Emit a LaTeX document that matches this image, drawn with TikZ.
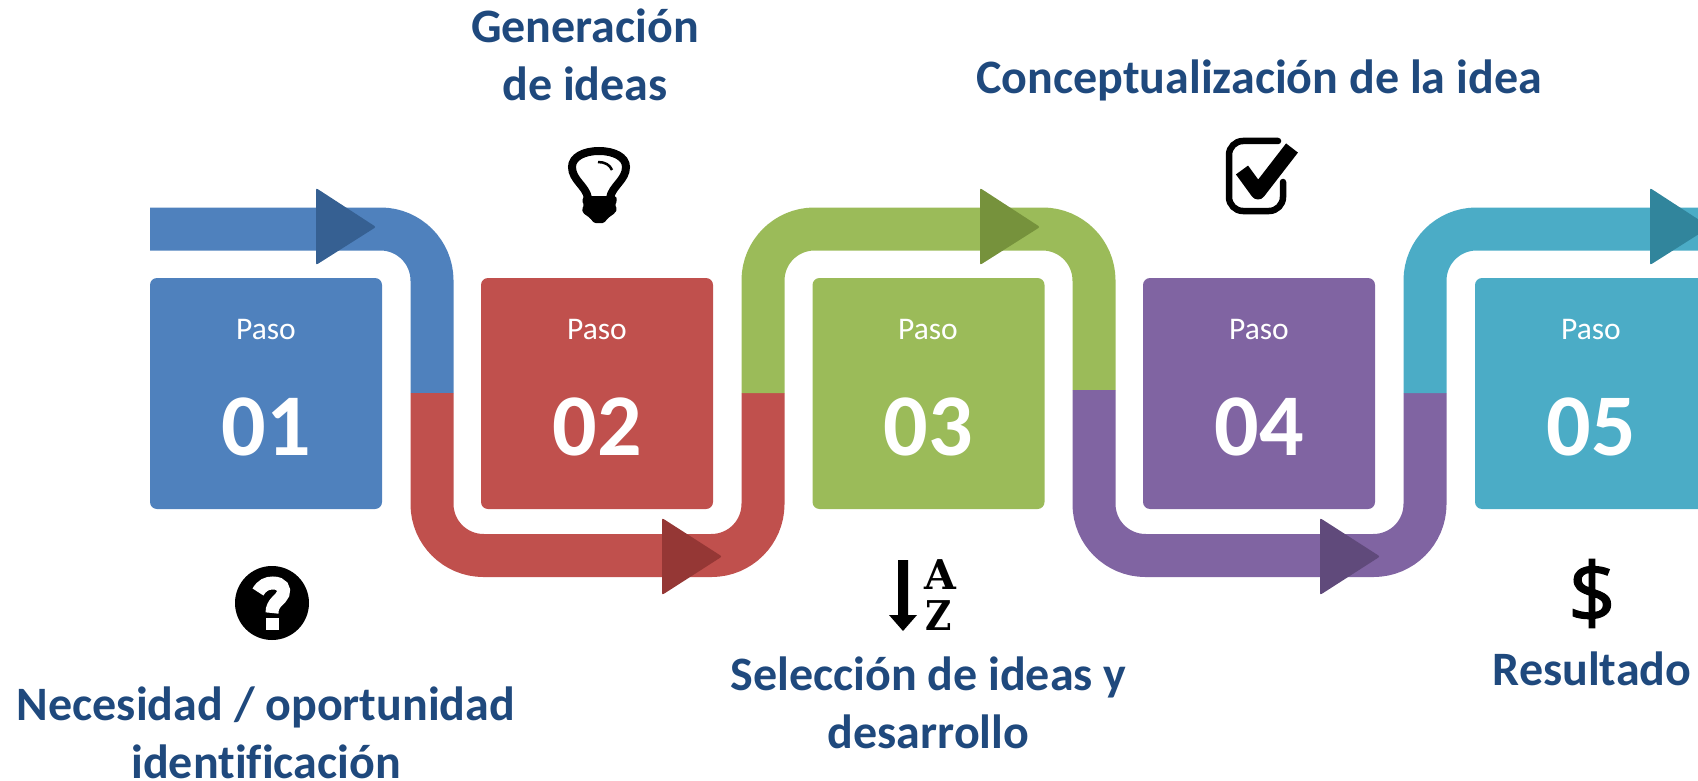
\documentclass[tikz,border=0pt]{standalone}
\usepackage{fontspec}
\setmainfont{Carlito}[Ligatures=NoCommon]
\newfontfamily\iconfont{Open Sans}[FakeBold=1.6]
\newfontfamily\slabfont{DejaVu Serif}
\definecolor{pasoblue}{HTML}{4F81BD}
\definecolor{pasored}{HTML}{C0504D}
\definecolor{pasogreen}{HTML}{9BBB59}
\definecolor{pasopurple}{HTML}{8064A2}
\definecolor{pasocyan}{HTML}{4BACC6}
\definecolor{tipblue}{HTML}{366092}
\definecolor{tipred}{HTML}{953735}
\definecolor{tipgreen}{HTML}{76923C}
\definecolor{tippurple}{HTML}{604A7B}
\definecolor{tipcyan}{HTML}{31859C}
\definecolor{titleblue}{HTML}{1F497D}
\tikzset{
	band/.style={line width=43pt,rounded corners=51.5pt},
	pointer/.style={rounded corners=2pt},
	pasobox/.style={rounded corners=7pt,minimum width=232pt,minimum height=231pt,inner sep=0pt},
	pasoword/.style={text=white,font=\fontsize{31.5}{36}\selectfont},
	pasonum/.style={text=white,font=\fontsize{88}{100}\selectfont\bfseries},
	title/.style={text=titleblue,align=center,inner sep=0pt,font=\fontsize{48}{58}\selectfont\bfseries}
}
\begin{document}
\begin{tikzpicture}[x=1pt,y=-1pt]
	\useasboundingbox (0,0) rectangle (1698,781);
	% turning points of the band
	\coordinate (t0) at (150,229);
	\coordinate (t1) at (432,229);
	\coordinate (m1) at (432,393);
	\coordinate (b1) at (432,555.5);
	\coordinate (b2) at (763,555.5);
	\coordinate (m2) at (763,393);
	\coordinate (t2) at (763,229);
	\coordinate (t3) at (1094,229);
	\coordinate (m3) at (1094,390);
	\coordinate (b3) at (1094,555.5);
	\coordinate (b4) at (1425,555.5);
	\coordinate (m4) at (1425,393);
	\coordinate (t4) at (1425,229);
	\coordinate (t5) at (1698,229);
	\draw[band,pasoblue] (t0) -- (t1) -- (m1);
	\draw[band,pasored] (m1) -- (b1) -- (b2) -- (m2);
	\draw[band,pasogreen] (m2) -- (t2) -- (t3) -- (m3);
	\draw[band,pasopurple] (m3) -- (b3) -- (b4) -- (m4);
	\draw[band,pasocyan] (m4) -- (t4) -- (t5);
	% triangles on the band
	\fill[pointer,tipblue] (316,188) -- ++(60,39) -- ++(-60,38) -- cycle;
	\fill[pointer,tipred] (662,518) -- ++(60,38.5) -- ++(-60,38.5) -- cycle;
	\fill[pointer,tipgreen] (980,188) -- ++(60,39) -- ++(-60,38) -- cycle;
	\fill[pointer,tippurple] (1320,518) -- ++(60,38.5) -- ++(-60,38.5) -- cycle;
	\fill[pointer,tipcyan] (1650,188) -- ++(60,39) -- ++(-60,38) -- cycle;
	% boxes
	\node[pasobox,fill=pasoblue] (box1) at (266,393.5) {};
	\node[pasobox,fill=pasored] (box2) at (597,393.5) {};
	\node[pasobox,fill=pasogreen] (box3) at (928.5,393.5) {};
	\node[pasobox,fill=pasopurple] (box4) at (1259,393.5) {};
	\node[pasobox,fill=pasocyan] (box5) at (1591,393.5) {};
	\begin{scope}[every node/.style={pasoword}]
		\node (paso1) at (266,329.5) {Paso};
		\node (paso2) at (597,329.5) {Paso};
		\node (paso3) at (928,329.5) {Paso};
		\node (paso4) at (1259,329.5) {Paso};
		\node (paso5) at (1591,329.5) {Paso};
	\end{scope}
	\begin{scope}[every node/.style={pasonum}]
		\node (num1) at (266,427) {01};
		\node (num2) at (597,427) {02};
		\node (num3) at (928,427) {03};
		\node (num4) at (1259,427) {04};
		\node (num5) at (1591,427) {05};
	\end{scope}
	% titles
	\begin{scope}[every node/.style={title}]
		\node (need) at (266,733) {Necesidad / oportunidad\\identificación};
		\node (gen) at (585,55) {Generación\\de ideas};
		\node (sel) at (928.5,703) {Selección de ideas y\\desarrollo};
		\node (con) at (1259,80) {Conceptualización de la idea};
		\node (res) at (1592,669) {Resultado};
	\end{scope}
	% question icon
	\fill[black] (272,603) circle (37);
	\draw[white,line width=13pt] (258,592) .. controls (262,585) and (267,583) .. (273,583) .. controls (282,583) and (285,589) .. (283,594) .. controls (281,600) and (272,602) .. (272,613);
	\fill[white] (266,618) rectangle (279,630);
	% bulb icon
	\draw[black,line width=8pt] (588,198) .. controls (586,186) and (572,180) .. (572,167) .. controls (572,157) and (584,151) .. (599,151) .. controls (614,151) and (626,157) .. (626,167) .. controls (626,180) and (612,186) .. (610,198);
	\fill[black,rounded corners=1.5pt] (584,196) -- (616,196) -- (617,201) -- (615,205) -- (617,209) -- (615,213) -- (608,218) -- (604,223) -- (594,223) -- (590,218) -- (583,213) -- (582,209) -- (584,205) -- (582,201) -- cycle;
	\draw[black,line width=2.5pt] (598,162) .. controls (605,162) and (610,165) .. (612,170);
	% sort icon
	\fill[black] (898,560) -- (908,560) -- (908,615) -- (917,615) -- (903,631) -- (889,615) -- (898,615) -- cycle;
	\node[font=\slabfont\fontsize{41}{41}\selectfont\bfseries,inner sep=0pt] (lettera) at (940,575) {A};
	\node[font=\slabfont\fontsize{41}{41}\selectfont\bfseries,inner sep=0pt] (letterz) at (938.5,615.5) {\scalebox{.88}[1]{Z}};
	% check icon
	\draw[black,line width=6.5pt,rounded corners=14pt,line cap=round] (1278,141) -- (1229,141) -- (1229,211) -- (1283,211) -- (1283,182);
	\draw[black,line width=15pt,line join=round] (1242,170) -- (1258,192) -- (1292,148);
	% dollar icon
	\node[font=\iconfont\fontsize{84}{84}\selectfont,inner sep=0pt] (dollar) at (1592,593.5) {\$};
\end{tikzpicture}
\end{document}
